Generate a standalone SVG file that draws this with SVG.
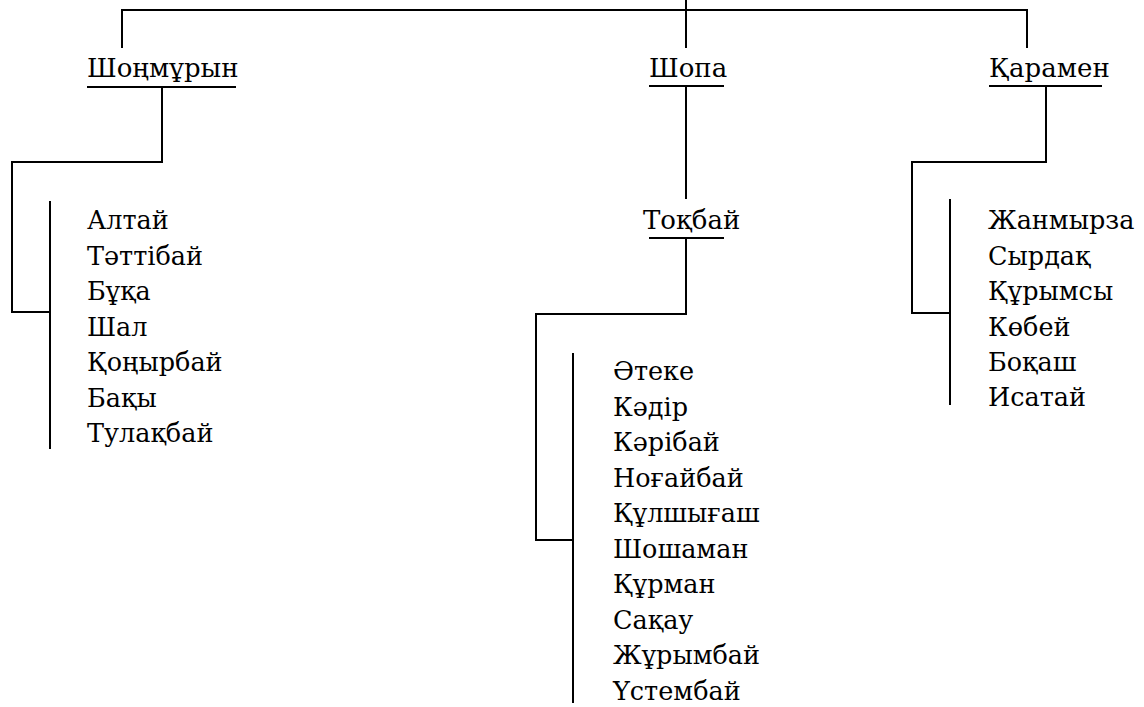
<svg xmlns="http://www.w3.org/2000/svg" width="1144" height="707" viewBox="0 0 1144 707">
<rect width="1144" height="707" fill="#fff"/>
<g id="connectors" stroke="#000" stroke-width="2" fill="none">
<polyline points="122,48 122,10 1027,10 1027,48"/>
<line x1="686" y1="0" x2="686" y2="48"/>
<polyline points="162,87 162,162 12,162 12,312 50,312"/>
<line x1="50" y1="201" x2="50" y2="449"/>
<line x1="686" y1="87" x2="686" y2="199"/>
<polyline points="686,238 686,314 536,314 536,540 573,540"/>
<line x1="573" y1="353" x2="573" y2="703"/>
<polyline points="1046,86 1046,162 912,162 912,313 950,313"/>
<line x1="950" y1="199" x2="950" y2="405"/>
</g>
<g id="n-shonmuryn">
<text font-family="DejaVu Serif" font-size="26" x="87" y="77">Шоңмұрын</text>
<line x1="87" y1="87" x2="236" y2="87" stroke="#000" stroke-width="2"/>
</g>
<g id="n-shopa">
<text font-family="DejaVu Serif" font-size="26" x="649" y="77">Шопа</text>
<line x1="649" y1="86" x2="724" y2="86" stroke="#000" stroke-width="2"/>
</g>
<g id="n-karamen">
<text font-family="DejaVu Serif" font-size="26" x="989" y="77">Қарамен</text>
<line x1="989" y1="86" x2="1102" y2="86" stroke="#000" stroke-width="2"/>
</g>
<g id="n-tokbai">
<text font-family="DejaVu Serif" font-size="26" x="643" y="229">Тоқбай</text>
<line x1="649" y1="238" x2="724" y2="238" stroke="#000" stroke-width="2"/>
</g>
<g id="n-list-shonmuryn">
<text font-family="DejaVu Serif" font-size="25.5" x="87" y="229">Алтай</text>
<text font-family="DejaVu Serif" font-size="25.5" x="87" y="264.5">Тәттібай</text>
<text font-family="DejaVu Serif" font-size="25.5" x="87" y="300">Бұқа</text>
<text font-family="DejaVu Serif" font-size="25.5" x="87" y="335.5">Шал</text>
<text font-family="DejaVu Serif" font-size="25.5" x="87" y="371">Қоңырбай</text>
<text font-family="DejaVu Serif" font-size="25.5" x="87" y="406.5">Бақы</text>
<text font-family="DejaVu Serif" font-size="25.5" x="87" y="442">Тулақбай</text>
</g>
<g id="n-list-tokbai">
<text font-family="DejaVu Serif" font-size="25.5" x="613" y="380">Әтеке</text>
<text font-family="DejaVu Serif" font-size="25.5" x="613" y="415.5">Кәдір</text>
<text font-family="DejaVu Serif" font-size="25.5" x="613" y="451">Кәрібай</text>
<text font-family="DejaVu Serif" font-size="25.5" x="613" y="486.5">Ноғайбай</text>
<text font-family="DejaVu Serif" font-size="25.5" x="613" y="522">Құлшығаш</text>
<text font-family="DejaVu Serif" font-size="25.5" x="613" y="557.5">Шошаман</text>
<text font-family="DejaVu Serif" font-size="25.5" x="613" y="593">Құрман</text>
<text font-family="DejaVu Serif" font-size="25.5" x="613" y="628.5">Сақау</text>
<text font-family="DejaVu Serif" font-size="25.5" x="613" y="664">Жұрымбай</text>
<text font-family="DejaVu Serif" font-size="25.5" x="613" y="699.5">Үстембай</text>
</g>
<g id="n-list-karamen">
<text font-family="DejaVu Serif" font-size="25.5" x="988" y="229">Жанмырза</text>
<text font-family="DejaVu Serif" font-size="25.5" x="988" y="264.5">Сырдақ</text>
<text font-family="DejaVu Serif" font-size="25.5" x="988" y="300">Құрымсы</text>
<text font-family="DejaVu Serif" font-size="25.5" x="988" y="335.5">Көбей</text>
<text font-family="DejaVu Serif" font-size="25.5" x="988" y="371">Боқаш</text>
<text font-family="DejaVu Serif" font-size="25.5" x="988" y="406">Исатай</text>
</g>
</svg>
